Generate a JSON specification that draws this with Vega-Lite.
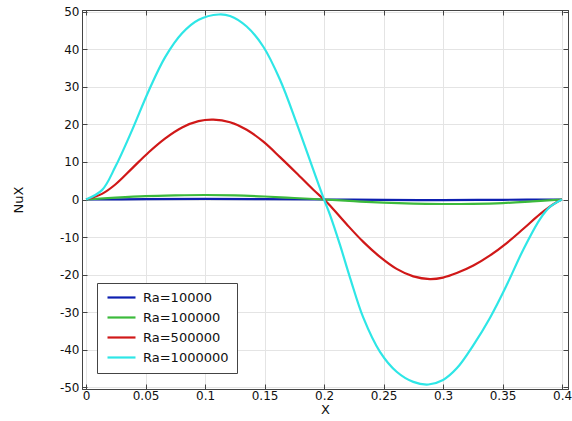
{
  "$schema": "https://vega.github.io/schema/vega-lite/v6.json",
  "autosize": "none",
  "padding": {"left": 82, "top": 10, "right": 4, "bottom": 32},
  "width": 486,
  "height": 379,
  "background": "white",
  "config": {
    "font": "DejaVu Sans",
    "view": {"stroke": "#444", "strokeWidth": 1},
    "axis": {"labelFont": "DejaVu Sans", "titleFont": "DejaVu Sans", "labelFontSize": 12, "titleFontSize": 13, "titleFontWeight": "normal", "labelColor": "#111", "titleColor": "#111", "domainColor": "#444", "tickColor": "#444", "gridColor": "#e4e4e4", "gridWidth": 1}
  },
  "data": {"values": [
    {"x": 0, "y": 0, "s": "Ra=10000"},
    {"x": 0.05, "y": 0.08, "s": "Ra=10000"},
    {"x": 0.1, "y": 0.15, "s": "Ra=10000"},
    {"x": 0.15, "y": 0.1, "s": "Ra=10000"},
    {"x": 0.2, "y": 0, "s": "Ra=10000"},
    {"x": 0.25, "y": -0.1, "s": "Ra=10000"},
    {"x": 0.3, "y": -0.15, "s": "Ra=10000"},
    {"x": 0.35, "y": -0.08, "s": "Ra=10000"},
    {"x": 0.4, "y": 0, "s": "Ra=10000"},
    {"x": 0, "y": 0, "s": "Ra=100000"},
    {"x": 0.025, "y": 0.5, "s": "Ra=100000"},
    {"x": 0.05, "y": 0.9, "s": "Ra=100000"},
    {"x": 0.075, "y": 1.1, "s": "Ra=100000"},
    {"x": 0.1, "y": 1.2, "s": "Ra=100000"},
    {"x": 0.125, "y": 1.1, "s": "Ra=100000"},
    {"x": 0.15, "y": 0.8, "s": "Ra=100000"},
    {"x": 0.175, "y": 0.4, "s": "Ra=100000"},
    {"x": 0.2, "y": 0, "s": "Ra=100000"},
    {"x": 0.225, "y": -0.45, "s": "Ra=100000"},
    {"x": 0.25, "y": -0.85, "s": "Ra=100000"},
    {"x": 0.275, "y": -1.1, "s": "Ra=100000"},
    {"x": 0.3, "y": -1.2, "s": "Ra=100000"},
    {"x": 0.325, "y": -1.15, "s": "Ra=100000"},
    {"x": 0.35, "y": -0.95, "s": "Ra=100000"},
    {"x": 0.375, "y": -0.5, "s": "Ra=100000"},
    {"x": 0.4, "y": 0, "s": "Ra=100000"},
    {"x": 0, "y": 0, "s": "Ra=500000"},
    {"x": 0.0134, "y": 1.5, "s": "Ra=500000"},
    {"x": 0.0246, "y": 4.0, "s": "Ra=500000"},
    {"x": 0.0387, "y": 8.3, "s": "Ra=500000"},
    {"x": 0.0527, "y": 12.6, "s": "Ra=500000"},
    {"x": 0.0666, "y": 16.3, "s": "Ra=500000"},
    {"x": 0.0807, "y": 19.2, "s": "Ra=500000"},
    {"x": 0.0945, "y": 20.9, "s": "Ra=500000"},
    {"x": 0.107, "y": 21.3, "s": "Ra=500000"},
    {"x": 0.121, "y": 20.6, "s": "Ra=500000"},
    {"x": 0.135, "y": 18.6, "s": "Ra=500000"},
    {"x": 0.149, "y": 15.4, "s": "Ra=500000"},
    {"x": 0.163, "y": 11.3, "s": "Ra=500000"},
    {"x": 0.177, "y": 7.0, "s": "Ra=500000"},
    {"x": 0.191, "y": 2.6, "s": "Ra=500000"},
    {"x": 0.2, "y": 0, "s": "Ra=500000"},
    {"x": 0.205, "y": -1.6, "s": "Ra=500000"},
    {"x": 0.219, "y": -6.6, "s": "Ra=500000"},
    {"x": 0.233, "y": -11.3, "s": "Ra=500000"},
    {"x": 0.247, "y": -15.3, "s": "Ra=500000"},
    {"x": 0.261, "y": -18.5, "s": "Ra=500000"},
    {"x": 0.275, "y": -20.5, "s": "Ra=500000"},
    {"x": 0.289, "y": -21.2, "s": "Ra=500000"},
    {"x": 0.3, "y": -20.8, "s": "Ra=500000"},
    {"x": 0.3115, "y": -19.6, "s": "Ra=500000"},
    {"x": 0.3255, "y": -17.6, "s": "Ra=500000"},
    {"x": 0.3395, "y": -14.9, "s": "Ra=500000"},
    {"x": 0.3535, "y": -11.6, "s": "Ra=500000"},
    {"x": 0.3675, "y": -7.8, "s": "Ra=500000"},
    {"x": 0.3815, "y": -3.9, "s": "Ra=500000"},
    {"x": 0.395, "y": -0.8, "s": "Ra=500000"},
    {"x": 0.4, "y": 0, "s": "Ra=500000"},
    {"x": 0, "y": 0, "s": "Ra=1000000"},
    {"x": 0.0134, "y": 2.5, "s": "Ra=1000000"},
    {"x": 0.0246, "y": 8.7, "s": "Ra=1000000"},
    {"x": 0.0387, "y": 18.5, "s": "Ra=1000000"},
    {"x": 0.0527, "y": 29.0, "s": "Ra=1000000"},
    {"x": 0.0666, "y": 38.0, "s": "Ra=1000000"},
    {"x": 0.0807, "y": 44.3, "s": "Ra=1000000"},
    {"x": 0.0947, "y": 47.9, "s": "Ra=1000000"},
    {"x": 0.1115, "y": 49.3, "s": "Ra=1000000"},
    {"x": 0.121, "y": 48.9, "s": "Ra=1000000"},
    {"x": 0.135, "y": 46.1, "s": "Ra=1000000"},
    {"x": 0.149, "y": 40.7, "s": "Ra=1000000"},
    {"x": 0.163, "y": 31.9, "s": "Ra=1000000"},
    {"x": 0.177, "y": 20.3, "s": "Ra=1000000"},
    {"x": 0.191, "y": 7.9, "s": "Ra=1000000"},
    {"x": 0.2, "y": 0, "s": "Ra=1000000"},
    {"x": 0.205, "y": -4.1, "s": "Ra=1000000"},
    {"x": 0.2134, "y": -12.1, "s": "Ra=1000000"},
    {"x": 0.222, "y": -21.0, "s": "Ra=1000000"},
    {"x": 0.233, "y": -31.5, "s": "Ra=1000000"},
    {"x": 0.247, "y": -40.6, "s": "Ra=1000000"},
    {"x": 0.261, "y": -45.9, "s": "Ra=1000000"},
    {"x": 0.275, "y": -48.6, "s": "Ra=1000000"},
    {"x": 0.2877, "y": -49.3, "s": "Ra=1000000"},
    {"x": 0.3, "y": -48.1, "s": "Ra=1000000"},
    {"x": 0.3115, "y": -45.0, "s": "Ra=1000000"},
    {"x": 0.3255, "y": -38.8, "s": "Ra=1000000"},
    {"x": 0.3395, "y": -31.5, "s": "Ra=1000000"},
    {"x": 0.3535, "y": -22.8, "s": "Ra=1000000"},
    {"x": 0.3675, "y": -13.3, "s": "Ra=1000000"},
    {"x": 0.3815, "y": -5.2, "s": "Ra=1000000"},
    {"x": 0.39, "y": -1.9, "s": "Ra=1000000"},
    {"x": 0.4, "y": 0, "s": "Ra=1000000"}
  ]},
  "layer": [
    {
      "mark": {"type": "line", "strokeWidth": 2.2, "interpolate": "catmull-rom"},
      "encoding": {
        "x": {"field": "x", "type": "quantitative", "scale": {"domain": [-0.0034, 0.405], "nice": false, "zero": false},
          "axis": {"title": "X", "values": [0, 0.05, 0.1, 0.15, 0.2, 0.25, 0.3, 0.35, 0.4], "labelExpr": "'' + datum.value", "tickSize": -5, "labelPadding": 6, "titlePadding": 2, "labelFlush": false}},
        "y": {"field": "y", "type": "quantitative", "scale": {"domain": [-50.5, 50.5], "nice": false},
          "axis": {"title": "NuX", "values": [-50, -40, -30, -20, -10, 0, 10, 20, 30, 40, 50], "labelExpr": "'' + datum.value", "tickSize": -5, "labelPadding": 8, "titlePadding": 34}},
        "color": {"field": "s", "type": "nominal",
          "scale": {"domain": ["Ra=10000", "Ra=100000", "Ra=500000", "Ra=1000000"], "range": ["#0d1fb0", "#3cba3c", "#d01818", "#2ee6e6"]},
          "legend": {"title": null, "orient": "none", "legendX": 15, "legendY": 273, "symbolType": "M-0.8,0H4.8", "symbolSize": 100, "symbolStrokeWidth": 2.2, "labelFontSize": 13, "labelFont": "DejaVu Sans", "labelColor": "#111", "labelOffset": 25, "rowPadding": 6, "padding": 8, "strokeColor": "#444", "fillColor": "white"}}
      }
    },
    {
      "mark": {"type": "line", "opacity": 0},
      "encoding": {
        "x": {"field": "x", "type": "quantitative", "axis": {"orient": "top", "title": null, "labels": false, "grid": false, "values": [0, 0.05, 0.1, 0.15, 0.2, 0.25, 0.3, 0.35, 0.4], "tickSize": -5}},
        "y": {"field": "y", "type": "quantitative", "axis": {"orient": "right", "title": null, "labels": false, "grid": false, "values": [-50, -40, -30, -20, -10, 0, 10, 20, 30, 40, 50], "tickSize": -5}},
        "detail": {"field": "s"}
      }
    }
  ],
  "resolve": {"axis": {"x": "independent", "y": "independent"}}
}
